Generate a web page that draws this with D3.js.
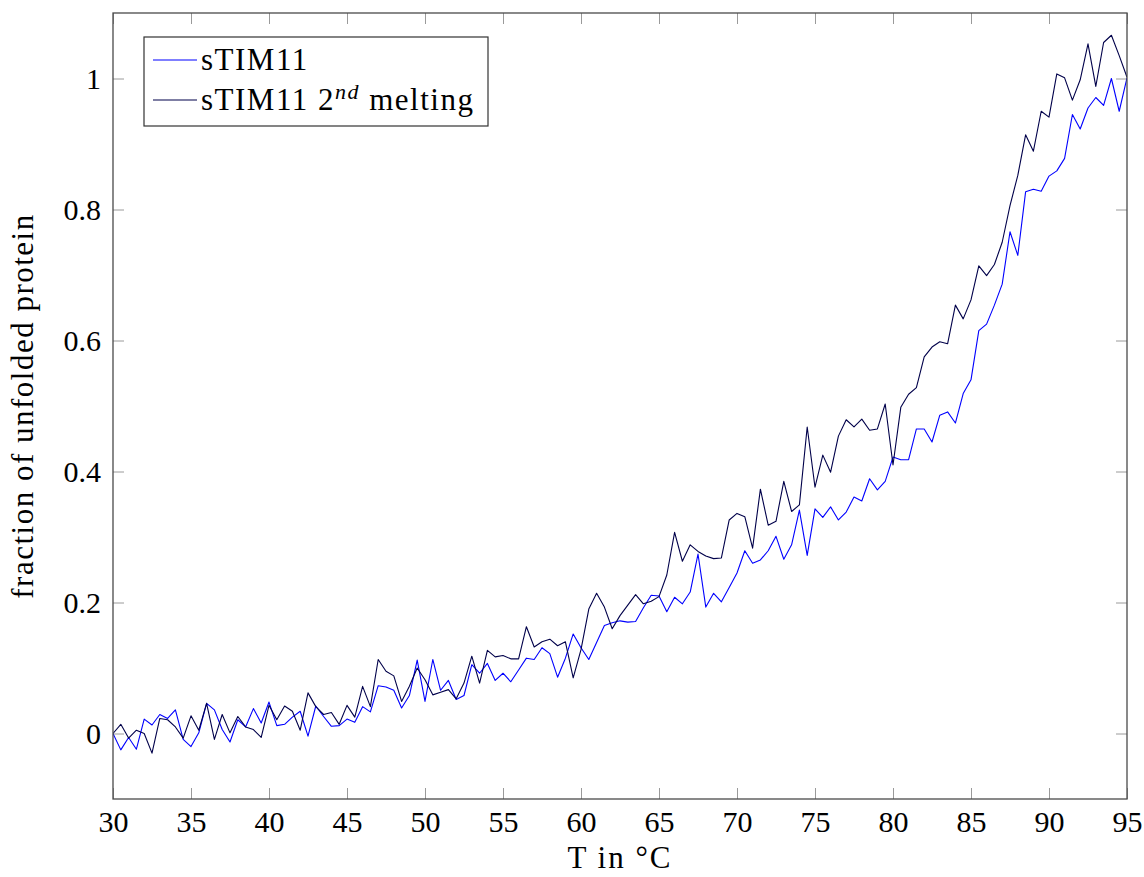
<!DOCTYPE html>
<html>
<head>
<meta charset="utf-8">
<script src="https://cdn.jsdelivr.net/npm/d3@7"></script>
<style>
  body { margin: 0; background: #fff; }
  text { font-family: "Liberation Serif", "Times New Roman", serif; fill: #000; }
</style>
</head>
<body>
<div id="chart"></div>
<script>
// temperatures (deg C), one reading every half degree
var temps = [
  30, 30.5, 31, 31.5, 32, 32.5, 33, 33.5, 34, 34.5,
  35, 35.5, 36, 36.5, 37, 37.5, 38, 38.5, 39, 39.5,
  40, 40.5, 41, 41.5, 42, 42.5, 43, 43.5, 44, 44.5,
  45, 45.5, 46, 46.5, 47, 47.5, 48, 48.5, 49, 49.5,
  50, 50.5, 51, 51.5, 52, 52.5, 53, 53.5, 54, 54.5,
  55, 55.5, 56, 56.5, 57, 57.5, 58, 58.5, 59, 59.5,
  60, 60.5, 61, 61.5, 62, 62.5, 63, 63.5, 64, 64.5,
  65, 65.5, 66, 66.5, 67, 67.5, 68, 68.5, 69, 69.5,
  70, 70.5, 71, 71.5, 72, 72.5, 73, 73.5, 74, 74.5,
  75, 75.5, 76, 76.5, 77, 77.5, 78, 78.5, 79, 79.5,
  80, 80.5, 81, 81.5, 82, 82.5, 83, 83.5, 84, 84.5,
  85, 85.5, 86, 86.5, 87, 87.5, 88, 88.5, 89, 89.5,
  90, 90.5, 91, 91.5, 92, 92.5, 93, 93.5, 94, 94.5,
  95
];

// sTIM11
var firstMelt = [
  0.000, -0.025, -0.006, -0.024, 0.022, 0.013, 0.029, 0.023, 0.036, -0.009,
  -0.020, 0.001, 0.046, 0.036, 0.006, -0.013, 0.021, 0.010, 0.038, 0.016,
  0.048, 0.012, 0.014, 0.025, 0.034, -0.004, 0.042, 0.026, 0.011, 0.012,
  0.022, 0.017, 0.041, 0.033, 0.073, 0.071, 0.066, 0.039, 0.058, 0.112,
  0.049, 0.113, 0.066, 0.081, 0.052, 0.058, 0.105, 0.092, 0.107, 0.081,
  0.092, 0.079, 0.097, 0.115, 0.113, 0.131, 0.122, 0.086, 0.115, 0.152,
  0.131, 0.113, 0.139, 0.165, 0.169, 0.172, 0.170, 0.171, 0.192, 0.211,
  0.210, 0.186, 0.208, 0.198, 0.216, 0.274, 0.193, 0.214, 0.201, 0.223,
  0.245, 0.279, 0.260, 0.265, 0.279, 0.301, 0.266, 0.288, 0.341, 0.272,
  0.343, 0.330, 0.346, 0.326, 0.338, 0.361, 0.355, 0.389, 0.372, 0.385,
  0.422, 0.418, 0.418, 0.465, 0.465, 0.445, 0.486, 0.491, 0.474, 0.519,
  0.540, 0.615, 0.625, 0.654, 0.686, 0.766, 0.730, 0.827, 0.831, 0.828,
  0.851, 0.859, 0.878, 0.945, 0.923, 0.955, 0.971, 0.959, 1.000, 0.950,
  1.001
];

// sTIM11, 2nd melting
var secondMelt = [
  0.000, 0.014, -0.007, 0.005, 0.000, -0.030, 0.023, 0.021, 0.010, -0.007,
  0.027, 0.005, 0.046, -0.009, 0.029, 0.001, 0.026, 0.010, 0.006, -0.006,
  0.043, 0.021, 0.042, 0.034, 0.005, 0.062, 0.041, 0.029, 0.032, 0.014,
  0.043, 0.025, 0.072, 0.041, 0.113, 0.095, 0.088, 0.049, 0.072, 0.100,
  0.082, 0.059, 0.063, 0.067, 0.053, 0.077, 0.118, 0.077, 0.127, 0.117,
  0.119, 0.114, 0.114, 0.163, 0.132, 0.140, 0.144, 0.134, 0.140, 0.085,
  0.128, 0.190, 0.214, 0.193, 0.160, 0.180, 0.196, 0.212, 0.198, 0.202,
  0.209, 0.242, 0.307, 0.263, 0.288, 0.278, 0.271, 0.267, 0.268, 0.326,
  0.336, 0.331, 0.283, 0.373, 0.318, 0.324, 0.385, 0.339, 0.349, 0.468,
  0.376, 0.425, 0.399, 0.454, 0.479, 0.468, 0.480, 0.463, 0.465, 0.503,
  0.410, 0.498, 0.518, 0.528, 0.575, 0.590, 0.598, 0.595, 0.654, 0.633,
  0.662, 0.714, 0.699, 0.716, 0.750, 0.806, 0.852, 0.914, 0.889, 0.950,
  0.941, 1.007, 1.001, 0.967, 0.998, 1.053, 0.988, 1.055, 1.066, 1.035,
  1.002
];

var xTicks = [30, 35, 40, 45, 50, 55, 60, 65, 70, 75, 80, 85, 90, 95];
var yTicks = [0, 0.2, 0.4, 0.6, 0.8, 1];
var yTickLabels = ["0", "0.2", "0.4", "0.6", "0.8", "1"];

var width = 1144, height = 877;
// plot box (note: "top" is taken by window.top, so prefix these)
var plotL = 113, plotR = 1127, plotT = 13, plotB = 799;

var svg = d3.select("#chart").append("svg")
    .attr("width", width)
    .attr("height", height);

var x = d3.scaleLinear().domain([30, 95]).range([plotL, plotR]);
var y = d3.scaleLinear().domain([-0.1, 1.1]).range([plotB, plotT]);

function styleAxis(g) {
  g.select(".domain").remove();
  g.selectAll(".tick line").attr("stroke", "#9a9a9a").attr("stroke-width", 1);
  g.selectAll(".tick text").style("font-size", "30px")
    .style("font-family", "'Liberation Serif', serif");
}

// bottom axis with labels
svg.append("g")
    .attr("transform", "translate(0," + plotB + ")")
    .call(d3.axisBottom(x).tickValues(xTicks).tickSizeInner(-11).tickSizeOuter(0).tickPadding(12))
    .call(styleAxis);

// top axis, ticks only
svg.append("g")
    .attr("transform", "translate(0," + plotT + ")")
    .call(d3.axisTop(x).tickValues(xTicks).tickSizeInner(-11).tickSizeOuter(0).tickFormat(""))
    .call(styleAxis);

// left axis with labels
svg.append("g")
    .attr("transform", "translate(" + plotL + ",0)")
    .call(d3.axisLeft(y).tickValues(yTicks).tickSizeInner(-11).tickSizeOuter(0).tickPadding(12)
      .tickFormat(function(d, i) { return yTickLabels[i]; }))
    .call(styleAxis);

// right axis, ticks only
svg.append("g")
    .attr("transform", "translate(" + plotR + ",0)")
    .call(d3.axisRight(y).tickValues(yTicks).tickSizeInner(-11).tickSizeOuter(0).tickFormat(""))
    .call(styleAxis);

var line = d3.line()
    .x(function(d) { return x(d[0]); })
    .y(function(d) { return y(d[1]); });

var series = [
  { name: "sTIM11", values: firstMelt, color: "#0000ff" },
  { name: "sTIM11 2nd melting", values: secondMelt, color: "#00004a" }
];

svg.append("defs").append("clipPath").attr("id", "plotclip")
  .append("rect").attr("x", plotL).attr("y", plotT)
  .attr("width", plotR - plotL).attr("height", plotB - plotT);

svg.append("g").attr("clip-path", "url(#plotclip)")
  .selectAll("path.series")
  .data(series)
  .enter()
  .append("path")
    .attr("class", "series")
    .attr("fill", "none")
    .attr("stroke", function(s) { return s.color; })
    .attr("stroke-width", 1.1)
    .attr("stroke-linejoin", "round")
    .attr("d", function(s) { return line(temps.map(function(t, i) { return [t, s.values[i]]; })); });

// frame
svg.append("rect")
    .attr("x", plotL).attr("y", plotT)
    .attr("width", plotR - plotL).attr("height", plotB - plotT)
    .attr("fill", "none").attr("stroke", "#4a4a4a").attr("stroke-width", 1.3);

// axis titles
svg.append("text")
    .attr("x", (plotL + plotR) / 2).attr("y", 868)
    .attr("text-anchor", "middle")
    .style("font-size", "31px")
    .style("letter-spacing", "2px")
    .text("T in °C");

svg.append("text")
    .attr("transform", "translate(33,406) rotate(-90)")
    .attr("text-anchor", "middle")
    .style("font-size", "31px")
    .style("letter-spacing", "1.5px")
    .text("fraction of unfolded protein");

// legend
var legend = svg.append("g");
legend.append("rect")
    .attr("x", 144).attr("y", 37).attr("width", 344).attr("height", 89)
    .attr("fill", "#fff").attr("stroke", "#333").attr("stroke-width", 1.2);

var rows = legend.selectAll("g.row")
    .data(series)
    .enter()
    .append("g")
    .attr("class", "row")
    .attr("transform", function(s, i) { return "translate(0," + (i * 40) + ")"; });

rows.append("line")
    .attr("x1", 153).attr("x2", 197).attr("y1", 60).attr("y2", 60)
    .attr("stroke", function(s) { return s.color; })
    .attr("stroke-width", 1.1);

var labels = rows.append("text")
    .attr("x", 201).attr("y", 70)
    .style("font-size", "31px")
    .style("letter-spacing", "1.5px");

labels.each(function(s, i) {
  var t = d3.select(this);
  if (i === 0) {
    t.text(s.name);
  } else {
    t.append("tspan").text("sTIM11 2");
    t.append("tspan").attr("dy", -11).style("font-size", "22px").style("font-style", "italic").text("nd");
    t.append("tspan").attr("dy", 11).text(" melting");
  }
});
</script>
</body>
</html>
